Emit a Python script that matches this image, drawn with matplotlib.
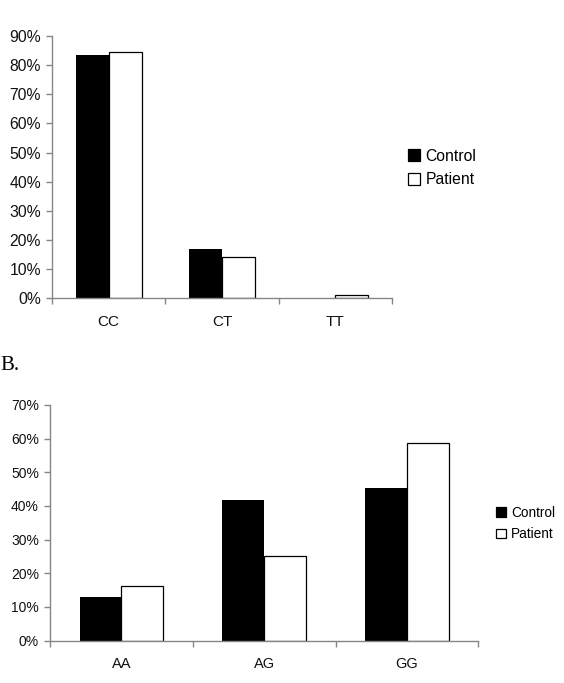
import matplotlib
matplotlib.use("Agg")
import matplotlib.pyplot as plt
from matplotlib.patches import Patch
from matplotlib.ticker import FixedLocator, PercentFormatter

plt.rcParams['font.family'] = ['Liberation Sans', 'DejaVu Sans']

# Panel A data
cats_a = ["CC", "CT", "TT"]
control_a = [83.4, 16.8, 0.0]
patient_a = [84.4, 14.3, 1.2]
yticks_a = [0, 10, 20, 30, 40, 50, 60, 70, 80, 90]

# Panel B data
cats_b = ["AA", "AG", "GG"]
control_b = [13.0, 41.7, 45.4]
patient_b = [16.3, 25.1, 58.7]
yticks_b = [0, 10, 20, 30, 40, 50, 60, 70]

series_names = ["Control", "Patient"]

W, H = 564, 683
fig = plt.figure(figsize=(W / 100, H / 100), dpi=100)

gray = "#868686"


def panel(rect, cats, ctrl, pat, yticks, fs, xfs, legend_xy, legend_fs, handle):
    ax = fig.add_axes(rect)
    n = len(cats)
    x = list(range(n))
    w = 0.292
    ax.bar([i - w for i in x], ctrl, width=w, align='edge', color='black',
           edgecolor='none', linewidth=0)
    ax.bar(x, pat, width=w, align='edge', color='white',
           edgecolor='black', linewidth=0.9)
    ax.set_xlim(-0.5, n - 0.5)
    ax.set_ylim(0, yticks[-1])
    ax.set_yticks(yticks)
    ax.yaxis.set_major_formatter(PercentFormatter(decimals=0))
    ax.xaxis.set_major_locator(FixedLocator([i - 0.5 for i in range(n + 1)]))
    ax.xaxis.set_major_formatter(plt.NullFormatter())
    ax.xaxis.set_minor_locator(FixedLocator(x))
    ax.set_xticklabels(cats, minor=True, fontsize=xfs, color='#111111')
    for s in ['top', 'right']:
        ax.spines[s].set_visible(False)
    for s in ['left', 'bottom']:
        ax.spines[s].set_color(gray)
        ax.spines[s].set_linewidth(1.0)
    ax.set_axisbelow(False)
    ax.tick_params(axis='y', which='major', direction='out', length=4,
                   width=1.0, color=gray, labelsize=fs, pad=4,
                   labelcolor='#111111')
    ax.tick_params(axis='x', which='major', direction='out', length=4,
                   width=1.0, color=gray)
    ax.tick_params(axis='x', which='minor', length=0, pad=12)
    handles = [Patch(facecolor='black', edgecolor='black', linewidth=0.9),
               Patch(facecolor='white', edgecolor='black', linewidth=0.9)]
    fig.legend(handles, series_names, loc='center left',
               bbox_to_anchor=legend_xy, frameon=False, fontsize=legend_fs,
               handlelength=handle, handleheight=handle, handletextpad=0.35,
               labelspacing=0.55, borderpad=0, borderaxespad=0)
    return ax


# Panel A
panel([52 / W, 1 - 298.3 / H, (392 - 52) / W, (298.3 - 36) / H],
      cats_a, control_a, patient_a, yticks_a, 11.3, 11,
      (408 / W, 1 - 168 / H), 11.3, 0.75)

# Panel B
panel([50 / W, 1 - 640.5 / H, (478.3 - 50) / W, (640.5 - 405) / H],
      cats_b, control_b, patient_b, yticks_b, 10, 10.5,
      (496 / W, 1 - 523.5 / H), 9.8, 0.75)

fig.text(0.0, 1 - 365 / H, "B.", fontsize=15, family='Liberation Serif',
         va='center', ha='left')

fig.savefig("out.png", dpi=100)
